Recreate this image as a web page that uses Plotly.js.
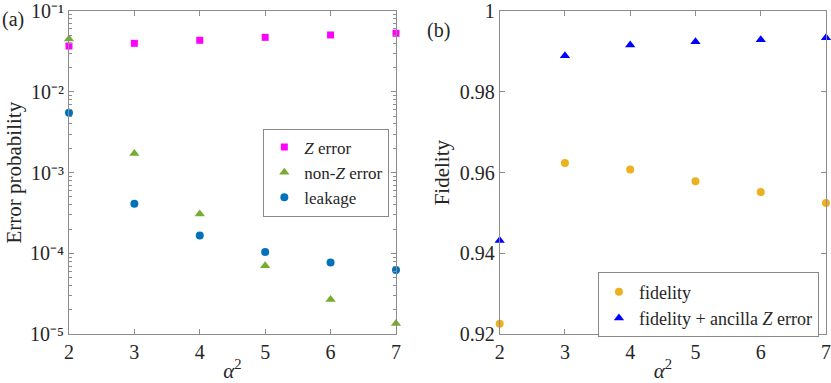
<!DOCTYPE html>
<html>
<head>
<meta charset="utf-8">
<script src="https://cdn.plot.ly/plotly-3.0.1.min.js"></script>
<style>html,body{margin:0;padding:0;background:#fff;}#chart{width:831px;height:383px;}</style>
</head>
<body>
<div id="chart"></div>
<script>
// ---- data ----
const alpha2 = [2, 3, 4, 5, 6, 7];
const zError = [0.0369, 0.0398, 0.0434, 0.0472, 0.0505, 0.0530];
const nonZError = [0.0450, 0.00173, 3.08e-4, 7.05e-5, 2.70e-5, 1.36e-5];
const leakage = [5.52e-3, 4.12e-4, 1.67e-4, 1.04e-4, 7.76e-5, 6.24e-5];
const fidelity = [0.9226, 0.9624, 0.9608, 0.9579, 0.9552, 0.9525];
const fidelityAncilla = [0.9432, 0.9889, 0.9916, 0.9924, 0.9929, 0.9934];
const logTickVals = [1e-5, 1e-4, 1e-3, 1e-2, 1e-1];
const logTickText = ['10⁻⁵', '10⁻⁴', '10⁻³', '10⁻²', '10⁻¹'];
const fidTickVals = [0.92, 0.94, 0.96, 0.98, 1];
const fidTickText = ['0.92', '0.94', '0.96', '0.98', '1'];
const seriesNames = ['<i>Z</i> error', 'non-<i>Z</i> error', 'leakage', 'fidelity', 'fidelity + ancilla <i>Z</i> error'];

const minorVals = [];
for (let e = -5; e < -1; e++) for (let m = 2; m <= 9; m++) minorVals.push(m * Math.pow(10, e));

const FONT = 'Liberation Serif';
const AX = '#8c8c8c';
const TXT = '#262626';

const traces = [
  {x: alpha2, y: zError, name: seriesNames[0], mode: 'markers', type: 'scatter', xaxis: 'x', yaxis: 'y',
   marker: {symbol: 'square', size: 7, color: '#FF00FF'}, cliponaxis: false, legend: 'legend'},
  {x: alpha2, y: nonZError, name: seriesNames[1], mode: 'markers', type: 'scatter', xaxis: 'x', yaxis: 'y',
   marker: {symbol: 'triangle-up', size: 9, color: '#77AC30'}, cliponaxis: false, legend: 'legend'},
  {x: alpha2, y: leakage, name: seriesNames[2], mode: 'markers', type: 'scatter', xaxis: 'x', yaxis: 'y',
   marker: {symbol: 'circle', size: 8, color: '#0072BD'}, cliponaxis: false, legend: 'legend'},
  {x: alpha2, y: fidelity, name: seriesNames[3], mode: 'markers', type: 'scatter', xaxis: 'x2', yaxis: 'y2',
   marker: {symbol: 'circle', size: 8, color: '#EDB120'}, cliponaxis: false, legend: 'legend2'},
  {x: alpha2, y: fidelityAncilla, name: seriesNames[4], mode: 'markers', type: 'scatter', xaxis: 'x2', yaxis: 'y2',
   marker: {symbol: 'triangle-up', size: 9, color: '#0000FF'}, cliponaxis: false, legend: 'legend2'}
];

const xCommon = {
  range: [2, 7], tickvals: alpha2, ticks: 'inside', ticklen: 5, tickcolor: AX,
  showline: true, linecolor: AX, linewidth: 1, mirror: 'ticks', showgrid: false, zeroline: false,
  ticklabeloverflow: 'allow',
  tickfont: {family: FONT, size: 20, color: TXT},
  title: {text: '<i>α</i><sup>2</sup>', font: {family: FONT, size: 21, color: TXT}, standoff: 3}
};

const layout = {
  width: 831, height: 383,
  margin: {l: 0, r: 0, t: 0, b: 0},
  paper_bgcolor: '#fff', plot_bgcolor: '#fff',
  showlegend: true,
  xaxis: Object.assign({}, xCommon, {domain: [0.083, 0.4765], anchor: 'y'}),
  xaxis2: Object.assign({}, xCommon, {domain: [0.6013, 0.994], anchor: 'y2'}),
  yaxis: {
    type: 'log', range: [-5, -1], domain: [0.1271, 0.9713], anchor: 'x',
    tickvals: logTickVals, ticktext: logTickText, ticks: 'inside', ticklen: 5, tickcolor: AX,
    minor: {tickvals: minorVals, ticks: 'inside', ticklen: 3, tickcolor: AX, showgrid: false},
    showline: true, linecolor: AX, mirror: 'ticks', showgrid: false, zeroline: false,
    ticklabeloverflow: 'allow',
    tickfont: {family: FONT, size: 20, color: TXT},
    title: {text: 'Error probability', font: {family: FONT, size: 21, color: TXT}, standoff: 2}
  },
  yaxis3: {
    type: 'log', range: [-5, -1], domain: [0.1271, 0.9713], anchor: 'x', overlaying: 'y', side: 'right',
    tickvals: logTickVals, showticklabels: false, ticks: 'inside', ticklen: 5, tickcolor: AX,
    minor: {tickvals: minorVals, ticks: 'inside', ticklen: 3, tickcolor: AX, showgrid: false},
    showline: false, showgrid: false, zeroline: false
  },
  yaxis2: {
    range: [0.92, 1], domain: [0.1271, 0.9713], anchor: 'x2',
    tickvals: fidTickVals, ticktext: fidTickText, ticks: 'inside', ticklen: 5, tickcolor: AX,
    showline: true, linecolor: AX, mirror: 'ticks', showgrid: false, zeroline: false,
    ticklabeloverflow: 'allow',
    tickfont: {family: FONT, size: 20, color: TXT},
    title: {text: 'Fidelity', font: {family: FONT, size: 21, color: TXT}, standoff: 4}
  },
  legend: {
    x: 0.4685, y: 0.5496, xanchor: 'right', yanchor: 'middle',
    bgcolor: '#fff', bordercolor: '#888', borderwidth: 1,
    font: {family: FONT, size: 17, color: TXT}, itemwidth: 30, tracegroupgap: 0
  },
  legend2: {
    x: 0.9855, y: 0.2037, xanchor: 'right', yanchor: 'middle',
    bgcolor: '#fff', bordercolor: '#888', borderwidth: 1,
    font: {family: FONT, size: 18, color: TXT}, itemwidth: 30, tracegroupgap: 0
  },
  annotations: [
    {text: '(a)', xref: 'paper', yref: 'paper', x: 0.0, y: 0.985, xanchor: 'left', yanchor: 'top',
     showarrow: false, font: {family: FONT, size: 20, color: TXT}},
    {text: '(b)', xref: 'paper', yref: 'paper', x: 0.512, y: 0.955, xanchor: 'left', yanchor: 'top',
     showarrow: false, font: {family: FONT, size: 20, color: TXT}}
  ]
};

Plotly.newPlot('chart', traces, layout, {displayModeBar: false, staticPlot: true});
</script>
</body>
</html>
